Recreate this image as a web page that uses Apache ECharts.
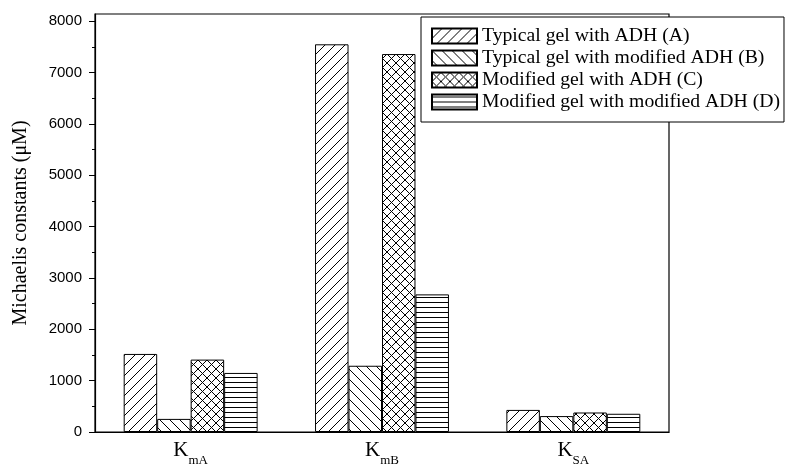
<!DOCTYPE html>
<html>
<head>
<meta charset="utf-8">
<script src="https://cdn.jsdelivr.net/npm/echarts@6/dist/echarts.min.js"></script>
<style>
  html, body { margin: 0; padding: 0; background: #fff; }
  #chart { width: 790px; height: 466px; }
</style>
</head>
<body>
<div id="chart"></div>
<script>
// Kinetic constants for the four gel / enzyme combinations
const categories = ['mA', 'mB', 'SA'];
const seriesNames = [
  'Typical gel with ADH (A)',
  'Typical gel with modified ADH (B)',
  'Modified gel with ADH (C)',
  'Modified gel with modified ADH (D)'
];
const typicalGelADH = [1520, 7550, 430];
const typicalGelModADH = [255, 1290, 310];
const modifiedGelADH = [1410, 7360, 380];
const modifiedGelModADH = [1150, 2680, 355];
const yTickValues = [0, 1000, 2000, 3000, 4000, 5000, 6000, 7000, 8000];

// Black-on-white hatch fills, built on small tiling canvases
function hatch(kind) {
  const s = kind === 'horiz' ? 5 : (kind === 'cross' ? 9 : 10);
  const c = document.createElement('canvas');
  c.width = s; c.height = s;
  const g = c.getContext('2d');
  g.fillStyle = '#fff';
  g.fillRect(0, 0, s, s);
  g.strokeStyle = '#000';
  g.lineWidth = 1;
  g.beginPath();
  if (kind === 'fwd' || kind === 'cross') {
    g.moveTo(-1, s + 1); g.lineTo(s + 1, -1);
    g.moveTo(-1, 1); g.lineTo(1, -1);
    g.moveTo(s - 1, s + 1); g.lineTo(s + 1, s - 1);
  }
  if (kind === 'back' || kind === 'cross') {
    g.moveTo(-1, -1); g.lineTo(s + 1, s + 1);
    g.moveTo(s - 1, -1); g.lineTo(s + 1, 1);
    g.moveTo(-1, s - 1); g.lineTo(1, s + 1);
  }
  if (kind === 'horiz') {
    g.moveTo(0, 2.5); g.lineTo(s, 2.5);
  }
  g.stroke();
  return { image: c, repeat: 'repeat' };
}

const fills = [hatch('fwd'), hatch('back'), hatch('cross'), hatch('horiz')];
const values = [typicalGelADH, typicalGelModADH, modifiedGelADH, modifiedGelModADH];

const chart = echarts.init(document.getElementById('chart'), null, { renderer: 'canvas' });

chart.setOption({
  animation: false,
  backgroundColor: '#fff',
  grid: {
    left: 95, right: 121, top: 14, bottom: 34,
    outerBoundsMode: 'none',
    containLabel: false,
    show: true, borderColor: '#000', borderWidth: 1.2, backgroundColor: 'transparent'
  },
  legend: {
    orient: 'vertical',
    left: 421, top: 17,
    icon: 'rect',
    itemWidth: 45, itemHeight: 15, itemGap: 2,
    padding: [9, 4, 10, 10],
    backgroundColor: '#fff',
    borderColor: '#000', borderWidth: 1,
    textStyle: { fontFamily: 'Liberation Serif', fontSize: 19.7, lineHeight: 20, color: '#000' },
    data: seriesNames
  },
  xAxis: {
    type: 'category',
    data: categories,
    axisLine: { lineStyle: { color: '#000', width: 1.2 } },
    axisTick: {
      alignWithLabel: true, length: 5, inside: false,
      interval: function (i) { return i === 1; },
      lineStyle: { color: '#000' }
    },
    axisLabel: {
      margin: 2,
      formatter: function (v) { return '{k|K}{s|' + v + '}'; },
      rich: {
        k: { fontFamily: 'Liberation Serif', fontSize: 21, color: '#000' },
        s: { fontFamily: 'Liberation Serif', fontSize: 13, color: '#000', padding: [20, 0, 0, 0] }
      }
    }
  },
  yAxis: {
    type: 'value',
    min: 0, max: 8140, interval: 1000,
    name: 'Michaelis constants (μM)',
    nameLocation: 'middle',
    nameGap: 64,
    nameTextStyle: { fontFamily: 'Liberation Serif', fontSize: 20, color: '#000' },
    axisLine: { show: true, lineStyle: { color: '#000', width: 1.2 } },
    axisTick: { show: true, length: 6, customValues: yTickValues, lineStyle: { color: '#000' } },
    minorTick: { show: true, splitNumber: 2, length: 3, lineStyle: { color: '#000' } },
    splitLine: { show: false },
    axisLabel: {
      customValues: yTickValues,
      margin: 13,
      formatter: function (v) { return String(v); },
      fontFamily: 'Liberation Sans', fontSize: 15, color: '#000'
    }
  },
  series: seriesNames.map(function (name, i) {
    return {
      name: name,
      type: 'bar',
      data: values[i],
      barGap: '0%',
      barCategoryGap: '30%',
      itemStyle: { color: fills[i], borderColor: '#000', borderWidth: 1 }
    };
  })
});
</script>
</body>
</html>
